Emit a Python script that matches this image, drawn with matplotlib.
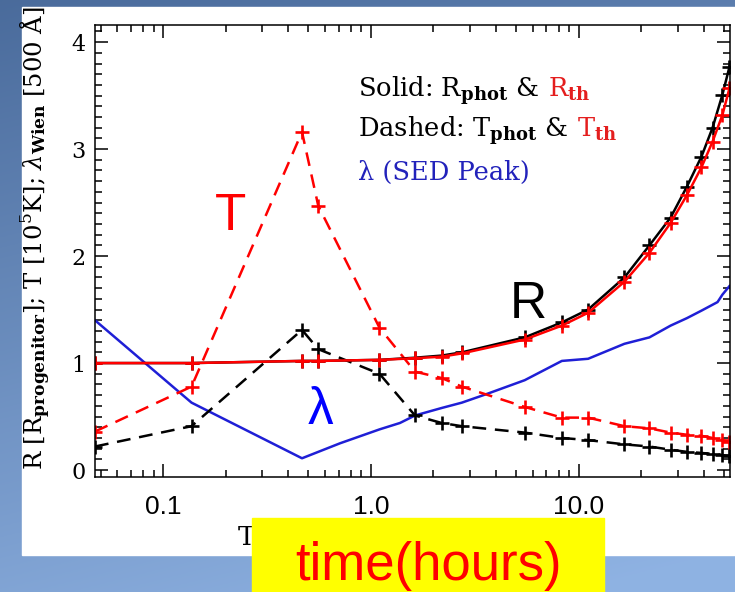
import numpy as np
import matplotlib
matplotlib.use('Agg')
import matplotlib.pyplot as plt
from matplotlib.patches import Rectangle
from matplotlib.ticker import FixedLocator, FixedFormatter, LogLocator, NullFormatter, MultipleLocator
from matplotlib.transforms import offset_copy

plt.rcParams['mathtext.fontset'] = 'dejavuserif'

# output times (hours) for the photosphere / thermalization quantities
t_out = [0.047, 0.137, 0.466, 0.558, 1.1, 1.63, 2.19, 2.74, 5.5, 8.3, 11.1,
         16.6, 21.9, 27.7, 33.2, 39.0, 44.1, 49.2, 53.2]
R_phot = [1.0, 1.0, 1.02, 1.02, 1.03, 1.05, 1.07, 1.10, 1.24, 1.38, 1.50,
          1.80, 2.10, 2.36, 2.65, 2.93, 3.20, 3.51, 3.77]
R_th = [1.0, 1.0, 1.02, 1.02, 1.03, 1.045, 1.06, 1.09, 1.22, 1.35, 1.47,
        1.76, 2.03, 2.31, 2.57, 2.83, 3.07, 3.32, 3.57]
T_phot = [0.22, 0.41, 1.31, 1.13, 0.90, 0.51, 0.44, 0.41, 0.35, 0.30, 0.28,
          0.24, 0.22, 0.19, 0.17, 0.16, 0.15, 0.14, 0.13]
T_th = [0.36, 0.78, 3.16, 2.47, 1.33, 0.92, 0.86, 0.78, 0.59, 0.49, 0.49,
        0.41, 0.39, 0.35, 0.33, 0.32, 0.30, 0.28, 0.26]

# Wien peak wavelength
t_lam = [0.047, 0.137, 0.466, 0.71, 1.1, 1.38, 1.63, 2.19, 2.74, 3.6, 5.5,
         8.3, 11.1, 16.6, 21.9, 27.7, 33.2, 39.0, 46.6, 49.2, 53.2]
lam = [1.40, 0.63, 0.11, 0.25, 0.38, 0.44, 0.51, 0.58, 0.63, 0.71, 0.84,
       1.02, 1.04, 1.18, 1.24, 1.35, 1.42, 1.49, 1.57, 1.64, 1.72]

xticks = [0.1, 1.0, 10.0]
xticklabels = ['0.1', '1.0', '10.0']
yticks = [0, 1, 2, 3, 4]

RED = '#ff0000'
BLUE = '#1f1fd6'

W, H = 735, 592
fig = plt.figure(figsize=(W / 100, H / 100), dpi=100)

# slide background: blue gradient with a white panel
bg = fig.add_axes([0, 0, 1, 1], zorder=-10)
yy, xx = np.mgrid[0:1:300j, 0:1:300j]
g = np.clip(0.8 * yy + 0.25 * xx, 0, 1)[..., None]
c0 = np.array([0.29, 0.42, 0.61])
c1 = np.array([0.56, 0.70, 0.89])
bg.imshow(c0 * (1 - g) + c1 * g, extent=[0, 1, 0, 1], aspect='auto', origin='upper')
bg.add_patch(Rectangle((22 / W, 1 - 555 / H), 1, (555 - 7) / H, color='white'))
bg.set_xlim(0, 1)
bg.set_ylim(0, 1)
bg.axis('off')

ax = fig.add_axes([95 / W, 1 - 477 / H, (730 - 95) / W, (477 - 25) / H])
ax.set_xscale('log')

lw = 1.8
mk = dict(marker='+', markersize=10, markeredgewidth=1.9)
ax.plot(t_lam, lam, color=BLUE, lw=lw)
ax.plot(t_out, T_phot, color='black', lw=lw, dashes=(5.5, 3.5), **mk)
ax.plot(t_out, T_th, color=RED, lw=lw, dashes=(5.5, 3.5), **mk)
ax.plot(t_out, R_phot, color='black', lw=lw, **mk)
ax.plot(t_out, R_th, color=RED, lw=lw, **mk)

ax.set_xlim(0.047, 53.5)
ax.set_ylim(-0.065, 4.16)

ax.xaxis.set_major_locator(FixedLocator(xticks))
ax.xaxis.set_major_formatter(FixedFormatter(xticklabels))
ax.xaxis.set_minor_locator(LogLocator(base=10, subs=np.arange(2, 10)))
ax.xaxis.set_minor_formatter(NullFormatter())
ax.yaxis.set_major_locator(FixedLocator(yticks))
ax.yaxis.set_minor_locator(MultipleLocator(0.1))

ax.tick_params(which='both', direction='in', top=True, right=True, width=1.1)
ax.tick_params(which='major', length=9.5)
ax.tick_params(which='minor', length=5)
ax.tick_params(axis='x', which='major', pad=13, labelsize=19)
ax.tick_params(axis='y', which='major', pad=7, labelsize=16)
for lab in ax.get_xticklabels():
    lab.set_family('Liberation Sans')
for lab in ax.get_yticklabels():
    lab.set_family('DejaVu Serif')
for sp in ax.spines.values():
    sp.set_linewidth(1.1)

fig.text(36 / W, 1 - 238 / H,
         r'R [R$_{\mathbf{progenitor}}$]; T [10$^{5}$K]; $\lambda_{\mathbf{Wien}}$ [500 Å]',
         rotation=90, ha='center', va='center', family='DejaVu Serif', fontsize=17.5)

# legend text, colored piece by piece
renderer = fig.canvas.get_renderer()


def colored_line(x, y, parts, size=18.5, gap=9):
    dx = 0
    for s, c in parts:
        tr = offset_copy(ax.transAxes, fig=fig, x=dx, y=0, units='dots')
        t = ax.text(x, y, s, color=c, transform=tr, family='DejaVu Serif',
                    fontsize=size, va='baseline', ha='left')
        dx += t.get_window_extent(renderer=renderer).width + gap


colored_line(0.414, 0.841, [(r'Solid: R$_{\mathbf{phot}}$ &', 'black'),
                            (r'R$_{\mathbf{th}}$', '#e41e1e')])
colored_line(0.414, 0.752, [(r'Dashed: T$_{\mathbf{phot}}$ &', 'black'),
                            (r'T$_{\mathbf{th}}$', '#e41e1e')])
colored_line(0.414, 0.657, [('λ (SED Peak)', '#2222bb')])

# big curve labels
big = dict(family='Liberation Sans', fontsize=37, ha='center', va='baseline')
fig.text(230 / W, 1 - 230 / H, 'T', color=RED, **big)
fig.text(528 / W, 1 - 318 / H, 'R', color='black', **big)
fig.text(321 / W, 1 - 424 / H, 'λ', color='#0000ff', **big)

# start of the axis title, the rest sits under the yellow box
fig.text(238 / W, 1 - 545 / H, 'T', family='DejaVu Serif',
         fontsize=19, ha='left', va='baseline', zorder=1)

fig.add_artist(Rectangle((252 / W, 0), (604 - 252) / W, (592 - 518) / H,
                         transform=fig.transFigure, color='#ffff00', zorder=10))
fig.text(428 / W, 1 - 580 / H, 'time(hours)', color=RED, family='Liberation Sans',
         fontsize=38, ha='center', va='baseline', zorder=11)

fig.savefig('out.png', dpi=100)
